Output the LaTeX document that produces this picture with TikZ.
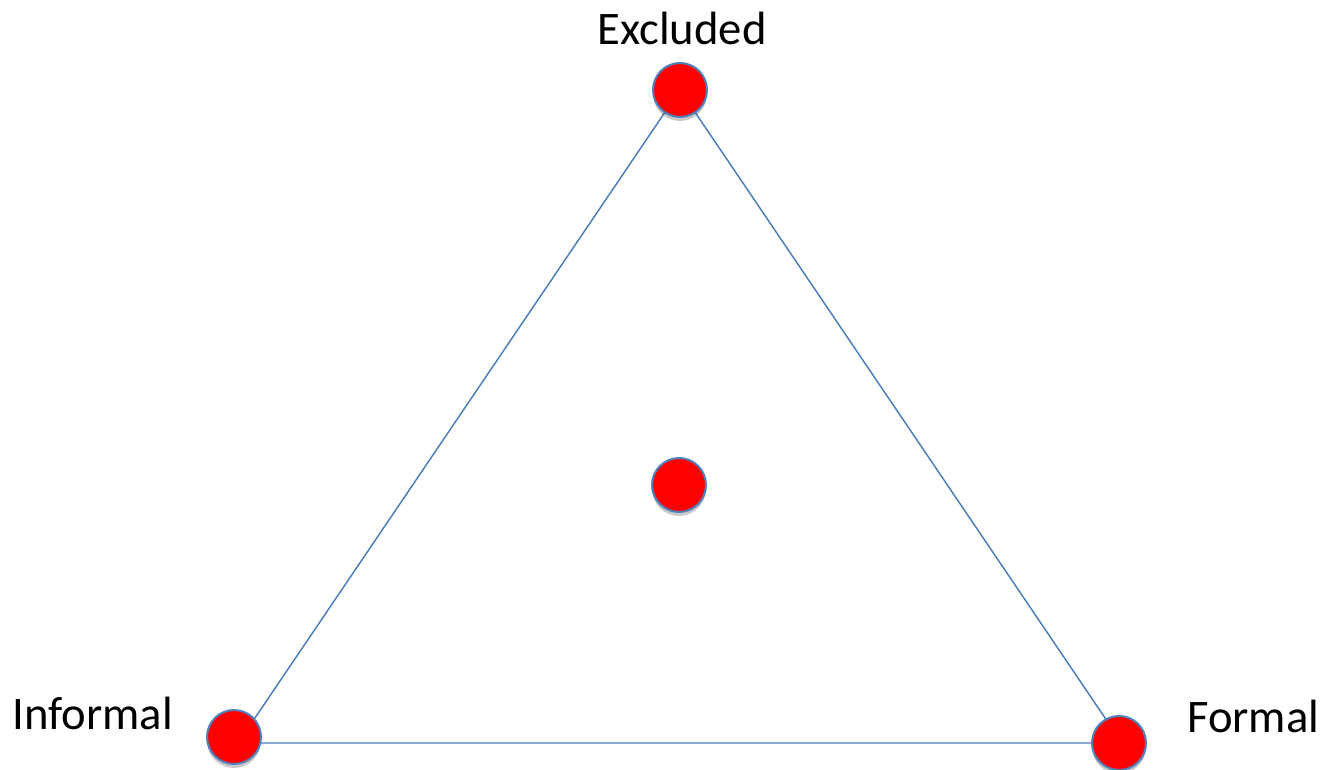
\documentclass[tikz,border=0pt]{standalone}
\usepackage{fontspec}
\setmainfont{Carlito}
\usetikzlibrary{shadows}
\definecolor{edgeblue}{HTML}{4A7EBB}
\definecolor{rimblue}{HTML}{4F81BD}
\tikzset{
  dot/.style={circle, minimum size=40.5pt, inner sep=0pt, fill=red, draw=rimblue, line width=1.5pt,
    drop shadow={shadow xshift=0pt, shadow yshift=-3pt, opacity=0.3, fill=black!70}},
  side/.style={draw=edgeblue, line width=1.1pt},
  lbl/.style={font=\fontsize{35}{42}\selectfont, inner sep=0pt}
}
\begin{document}
\begin{tikzpicture}[x=0.75pt, y=-0.75pt]
\useasboundingbox (0,0) rectangle (1324,770);
\coordinate (A) at (680,90);
\coordinate (B) at (238,743);
\coordinate (C) at (1122,743);
\draw[side] (A) -- (B) -- (C) -- cycle;
\node[dot] (top) at (680,90) {};
\node[dot] (mid) at (679,485) {};
\node[dot] (left) at (234,737) {};
\node[dot] (right) at (1119,743) {};
\node[lbl, anchor=base] (excl) at (682,45) {Excluded};
\node[lbl, anchor=base west] (inf) at (12,729) {Informal};
\node[lbl, anchor=base west] (form) at (1187,732) {Formal};
\end{tikzpicture}
\end{document}
